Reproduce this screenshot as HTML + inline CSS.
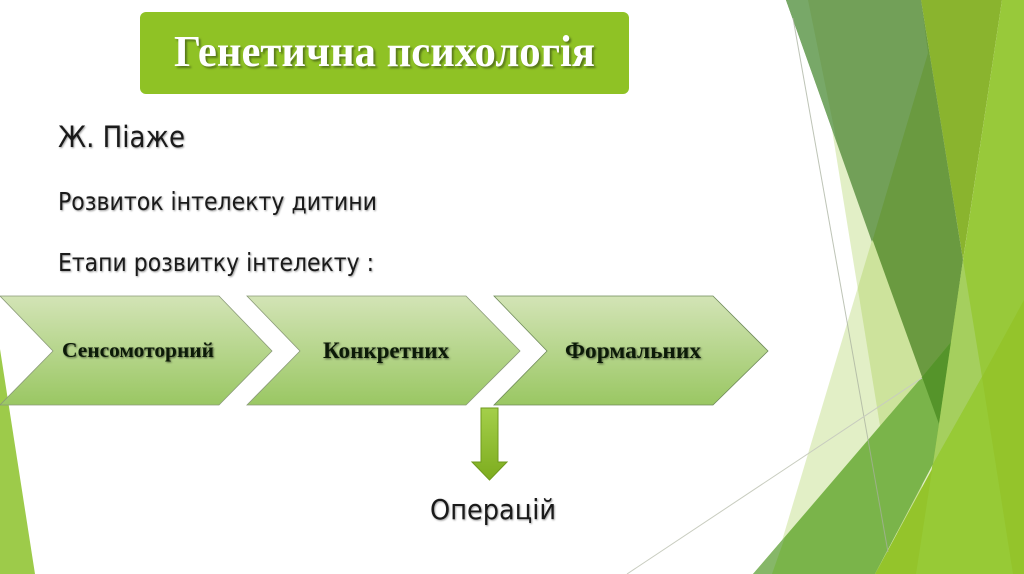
<!DOCTYPE html>
<html>
<head>
<meta charset="utf-8">
<style>
html,body{margin:0;padding:0;background:#fff;width:1024px;height:574px;overflow:hidden}
svg{display:block}
.s{font-family:"DejaVu Sans","Liberation Sans",sans-serif;fill:#1a1a1a;text-shadow:1px 1px 2px rgba(0,0,0,.4)}
.c{font-family:"Liberation Serif",serif;font-weight:bold;fill:#0c1a08;text-shadow:1px 1px 2px rgba(0,0,0,.55)}
.t{font-family:"Liberation Serif",serif;font-weight:bold;font-size:44px;fill:#fff;text-shadow:2px 2px 2px rgba(50,70,20,.6)}
</style>
</head>
<body>
<svg width="1024" height="574" viewBox="0 0 1024 574" xmlns="http://www.w3.org/2000/svg">
<defs>
<linearGradient id="g" x1="0" y1="0" x2="0" y2="1">
<stop offset="0" stop-color="#d3e4b6"/>
<stop offset="1" stop-color="#9ac763"/>
</linearGradient>
<linearGradient id="a" x1="0" y1="0" x2="0" y2="1">
<stop offset="0" stop-color="#a4cf4a"/>
<stop offset="1" stop-color="#7dac1e"/>
</linearGradient>
</defs>
<rect width="1024" height="574" fill="#fff"/>

<polygon points="0,349 35,574 0,574" fill="#9dcb4a"/>

<!-- pale triangles -->
<polygon points="811,0 960,300 904,574" fill="#94c42b" opacity=".27"/>
<polygon points="944,0 772,574 960,574 960,300" fill="#94c42b" opacity=".27"/>

<!-- right bars -->
<polygon points="921,0 1002,0 963,260" fill="#8ab42e"/>
<polygon points="1002,0 1024,0 1024,574 916,574" fill="#98c93a"/>

<!-- dark wedge -->
<polygon points="786,0 921,0 963,260 939,424" fill="#6a9a40"/>
<polygon points="786,0 921,0 928,53 872,242" fill="#72a058"/>
<polygon points="786,0 808,0 837,143" fill="#78a868"/>

<!-- green big triangle -->
<polygon points="753,574 922,377 951,342 939,424 933,464 875,574" fill="#7ab44a"/>
<polygon points="753,574 785,537 772,574" fill="#86b768"/>
<polygon points="922,377 951,342 939,424" fill="#55942a"/>

<!-- pale sliver -->
<polygon points="963,260 982,377 933,464 939,424" fill="#a5cf5e"/>

<!-- bottom right -->
<polygon points="875,574 982,377 1024,300 1024,574" fill="#94c42b"/>
<polygon points="933,464 982,377 1013,574 916,574" fill="#97ca36"/>

<!-- thin lines -->
<line x1="793" y1="18" x2="888" y2="552" stroke="#a8b09e" stroke-width="1" opacity=".75"/>
<line x1="627" y1="574" x2="922" y2="378" stroke="#c8ccbf" stroke-width="1"/>

<!-- header -->
<rect x="140" y="12" width="489" height="82" rx="6" ry="6" fill="#8fc225"/>
<text class="t" x="174" y="66" textLength="421" lengthAdjust="spacingAndGlyphs">Генетична психологія</text>

<!-- body text -->
<text class="s" x="58" y="147" font-size="29" textLength="127" lengthAdjust="spacingAndGlyphs">Ж. Піаже</text>
<text class="s" x="58" y="210" font-size="24.5" textLength="319" lengthAdjust="spacingAndGlyphs">Розвиток інтелекту дитини</text>
<text class="s" x="58" y="271" font-size="24.5" textLength="316" lengthAdjust="spacingAndGlyphs">Етапи розвитку інтелекту :</text>

<!-- chevrons -->
<polygon points="0,296 219,296 272,351 219,405 0,405 53,351" fill="url(#g)" stroke="#8a9a78" stroke-width=".8"/>
<polygon points="247,296 466,296 520,351 466,405 247,405 300,351" fill="url(#g)" stroke="#8a9a78" stroke-width=".8"/>
<polygon points="494,296 713,296 768,351 713,405 494,405 547,351" fill="url(#g)" stroke="#6f8a5a" stroke-width=".8"/>
<text class="c" x="62" y="357" font-size="21.5" textLength="152" lengthAdjust="spacingAndGlyphs">Сенсомоторний</text>
<text class="c" x="323" y="358" font-size="23" textLength="126" lengthAdjust="spacingAndGlyphs">Конкретних</text>
<text class="c" x="565" y="358" font-size="23" textLength="136" lengthAdjust="spacingAndGlyphs">Формальних</text>

<!-- arrow -->
<polygon points="481,408 498,408 498,462 507,462 489.5,480 472,462 481,462" fill="url(#a)" stroke="#6f9a1e" stroke-width="1"/>
<text class="s" x="430" y="519" font-size="28" textLength="126" lengthAdjust="spacingAndGlyphs">Операцій</text>
</svg>
</body>
</html>
